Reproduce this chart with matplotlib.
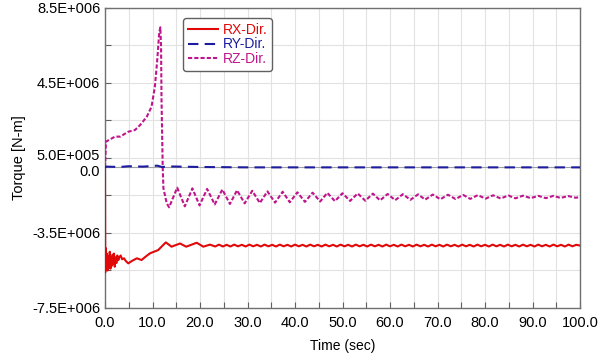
import numpy as np
import matplotlib
matplotlib.use("Agg")
import matplotlib.pyplot as plt
import matplotlib.transforms as mtransforms
from matplotlib.ticker import FixedLocator

plt.rcParams['font.family'] = ['Liberation Sans', 'DejaVu Sans']

# ---------------- data (values in N-m) ----------------
rx_t = [0.0, 0.05, 0.15, 0.3, 0.4, 0.55, 0.7, 0.85, 1.0, 1.15, 1.3, 1.45, 1.6, 1.75,
        1.9, 2.05, 2.2, 2.4, 2.6, 2.8, 3.0, 3.3, 3.6, 4.0, 4.4, 4.9, 5.6, 6.7, 7.7,
        8.6, 9.5, 11.2, 12.8, 14.0, 15.8, 17.1, 19.3, 20.7, 22.1,
        23.2, 24.0, 24.8, 25.6, 26.4, 27.2, 28.0, 28.8, 29.6, 30.4, 31.2, 32.0, 32.8,
        33.6, 34.4, 35.2, 36.0, 36.8, 37.6, 38.4, 39.2, 40.0, 40.8, 41.6, 42.4, 43.2,
        44.0, 44.8, 45.6, 46.4, 47.2, 48.0, 48.8, 49.6, 50.4, 51.2, 52.0, 52.8, 53.6,
        54.4, 55.2, 56.0, 56.8, 57.6, 58.4, 59.2, 60.0, 60.8, 61.6, 62.4, 63.2, 64.0,
        64.8, 65.6, 66.4, 67.2, 68.0, 68.8, 69.6, 70.4, 71.2, 72.0, 72.8, 73.6, 74.4,
        75.2, 76.0, 76.8, 77.6, 78.4, 79.2, 80.0, 80.8, 81.6, 82.4, 83.2, 84.0, 84.8,
        85.6, 86.4, 87.2, 88.0, 88.8, 89.6, 90.4, 91.2, 92.0, 92.8, 93.6, 94.4, 95.2,
        96.0, 96.8, 97.6, 98.4, 99.2, 100.0]
rx_v = [0.0, -5.6, -4.3, -5.45, -4.6, -5.5, -4.75, -5.35, -4.5, -5.4, -4.8, -5.25, -4.65, -5.15,
        -4.6, -5.3, -4.8, -5.1, -4.7, -4.95, -4.8, -4.7, -4.9, -4.85, -5.0, -5.12, -5.0, -4.85, -4.94,
        -4.75, -4.58, -4.41, -4.0, -4.23, -4.06, -4.23, -4.02, -4.23, -4.12,
        -4.22, -4.12, -4.22, -4.13, -4.22, -4.12, -4.21, -4.13, -4.22, -4.12, -4.21, -4.13, -4.22,
        -4.12, -4.21, -4.13, -4.22, -4.12, -4.21, -4.13, -4.22, -4.12, -4.21, -4.13, -4.22, -4.12,
        -4.21, -4.13, -4.22, -4.12, -4.21, -4.13, -4.22, -4.12, -4.21, -4.13, -4.22, -4.12, -4.21,
        -4.13, -4.22, -4.12, -4.21, -4.13, -4.22, -4.12, -4.21, -4.13, -4.22, -4.12, -4.21, -4.13,
        -4.22, -4.12, -4.21, -4.13, -4.22, -4.12, -4.21, -4.13, -4.22, -4.12, -4.21, -4.13, -4.22,
        -4.12, -4.21, -4.13, -4.22, -4.12, -4.21, -4.13, -4.22, -4.12, -4.21, -4.13, -4.22, -4.12,
        -4.21, -4.13, -4.22, -4.12, -4.21, -4.13, -4.22, -4.12, -4.21, -4.13, -4.22, -4.12, -4.21,
        -4.13, -4.22, -4.12, -4.21, -4.13, -4.17]

ry_t = [0.0, 0.3, 3.0, 5.0, 8.0, 11.0, 12.0, 13.5, 20.0, 30.0, 100.0]
ry_v = [0.0, 0.04, 0.02, 0.06, 0.04, 0.09, 0.02, 0.05, 0.02, 0.0, 0.0]

rz_t = [0.0, 0.2, 2.1, 3.2, 4.9, 6.3, 7.4, 8.8, 9.8, 10.5, 11.0, 11.4, 11.65, 11.8,
        11.9, 12.15, 12.3, 13.0,
        13.5, 15.2, 16.8, 18.4, 19.9, 21.5, 23.1, 24.7, 26.3, 27.8, 29.4, 31.0, 32.6,
        34.2, 35.8, 37.4, 38.9, 40.5, 42.1, 43.7, 45.3, 46.8, 48.4, 50.0, 51.6, 53.2,
        54.8, 56.4, 57.9, 59.5, 61.1, 62.7, 64.3, 65.9, 67.4, 69.0, 70.6, 72.2, 73.8,
        75.4, 76.9, 78.5, 80.1, 81.7, 83.3, 84.9, 86.4, 88.0, 89.6, 91.2, 92.8, 94.4,
        95.9, 97.5, 99.1, 100.0]
rz_v = [0.0, 1.37, 1.64, 1.64, 1.9, 1.99, 2.26, 2.7, 3.24, 4.3, 5.73, 7.15, 7.47, 6.44,
        3.6, 0.0, -1.12, -1.92,
        -2.13, -1.08, -2.08, -1.12, -2.03, -1.15, -1.98, -1.18, -1.95, -1.22, -1.92, -1.25, -1.90,
        -1.28, -1.88, -1.30, -1.86, -1.33, -1.84, -1.35, -1.82, -1.36, -1.80, -1.38, -1.79, -1.39,
        -1.78, -1.40, -1.76, -1.42, -1.75, -1.43, -1.73, -1.44, -1.72, -1.45, -1.70, -1.46, -1.69,
        -1.47, -1.68, -1.48, -1.67, -1.49, -1.66, -1.50, -1.65, -1.51, -1.64, -1.52, -1.64, -1.52,
        -1.63, -1.53, -1.62, -1.58]

series_names = ["RX-Dir.", "RY-Dir.", "RZ-Dir."]
y_major = [-7.5e6, -3.5e6, 0.0, 0.5e6, 4.5e6, 8.5e6]
y_major_labels = ["-7.5E+006", "-3.5E+006", "0.0", "5.0E+005", "4.5E+006", "8.5E+006"]
y_minor = [-5.5e6, -1.5e6, 2.5e6, 6.5e6]
x_major = [0, 10, 20, 30, 40, 50, 60, 70, 80, 90, 100]
x_major_labels = ["0.0", "10.0", "20.0", "30.0", "40.0", "50.0", "60.0", "70.0", "80.0", "90.0", "100.0"]
x_minor = [5, 15, 25, 35, 45, 55, 65, 75, 85, 95]

# ---------------- plot ----------------
c_rx, c_ry, c_rz = "#e00808", "#1c1ca0", "#c0148c"

fig = plt.figure(figsize=(6.0, 3.55), dpi=100)
ax = fig.add_axes([0.175, 0.1324, 0.7917, 0.8451])

ax.plot(rx_t, np.array(rx_v) * 1e6, color=c_rx, lw=1.5, label=series_names[0], zorder=4)
ax.plot(ry_t, np.array(ry_v) * 1e6, color=c_ry, lw=1.5, ls=(0, (5, 3)), label=series_names[1], zorder=5)
ax.plot(rz_t, np.array(rz_v) * 1e6, color=c_rz, lw=1.5, ls=(0, (2, 1)), label=series_names[2], zorder=3)

ax.set_xlim(0, 100)
ax.set_ylim(-7.5e6, 8.5e6)
ax.xaxis.set_major_locator(FixedLocator(x_major))
ax.xaxis.set_minor_locator(FixedLocator(x_minor))
ax.set_xticklabels(x_major_labels)
ax.yaxis.set_major_locator(FixedLocator(y_major))
ax.yaxis.set_minor_locator(FixedLocator(y_minor))
ax.set_yticklabels(y_major_labels)

ax.grid(which="both", color="#e2e2e2", lw=0.8, zorder=0)
ax.set_axisbelow(True)
ax.axhline(0, color="#a0a0a0", lw=0.8, zorder=1)

ax.tick_params(which="both", direction="in", length=4, width=0.8, color="#606060",
               labelsize=10.5, labelcolor="black")
ax.tick_params(axis="x", pad=6)
for s in ax.spines.values():
    s.set_color("#707070")
    s.set_linewidth(1.0)

# nudge the two close labels apart a little (as in the reference they nearly touch)
for lbl in ax.get_yticklabels():
    if lbl.get_text() == "0.0":
        lbl.set_transform(lbl.get_transform() +
                          mtransforms.ScaledTranslation(0, -2 / 72, fig.dpi_scale_trans))
    elif lbl.get_text() == "5.0E+005":
        lbl.set_transform(lbl.get_transform() +
                          mtransforms.ScaledTranslation(0, 2.5 / 72, fig.dpi_scale_trans))

ax.set_xlabel("Time (sec)", fontsize=10, labelpad=6)
ax.set_ylabel("Torque [N-m]", fontsize=10.5, labelpad=4)

leg = ax.legend(loc="upper left", bbox_to_anchor=(0.164, 0.967), borderaxespad=0,
                fontsize=10, handlelength=2.2, handletextpad=0.3, labelspacing=0.05,
                borderpad=0.35, frameon=True, fancybox=True, framealpha=1.0,
                edgecolor="#606060")
leg.get_frame().set_linewidth(1.0)
for txt, c in zip(leg.get_texts(), [c_rx, c_ry, c_rz]):
    txt.set_color(c)

fig.savefig("out.png", dpi=100, facecolor="white")
